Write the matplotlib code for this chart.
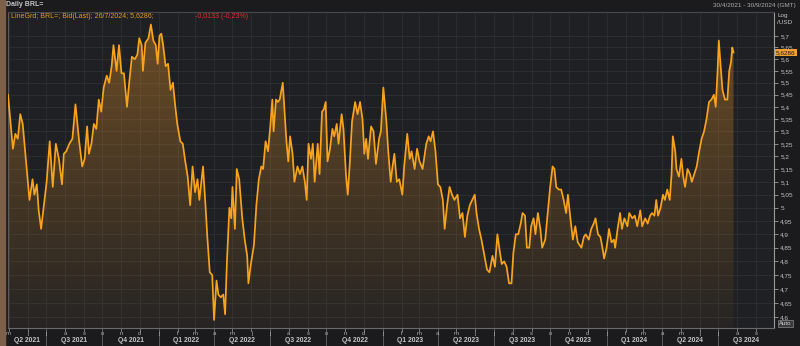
import matplotlib
matplotlib.use("Agg")
import matplotlib.pyplot as plt
import numpy as np
import pandas as pd
from matplotlib.patches import Rectangle
from matplotlib.ticker import FixedLocator, NullLocator, FixedFormatter

plt.rcParams['font.family'] = ['Liberation Sans', 'DejaVu Sans']

# ---------------- data ----------------
dates_2021 = ["2021-04-30","2021-05-05","2021-05-08","2021-05-12","2021-05-16","2021-05-20","2021-05-24","2021-05-29",
              "2021-06-04","2021-06-09","2021-06-12","2021-06-16","2021-06-19","2021-06-23","2021-06-27","2021-07-02",
              "2021-07-07","2021-07-12","2021-07-17","2021-07-22","2021-07-27","2021-07-30","2021-08-03","2021-08-08",
              "2021-08-13","2021-08-18","2021-08-24","2021-08-29","2021-09-02","2021-09-06","2021-09-09","2021-09-13",
              "2021-09-17","2021-09-21","2021-09-25","2021-09-29","2021-10-03","2021-10-08","2021-10-12","2021-10-16",
              "2021-10-19","2021-10-24","2021-10-28","2021-11-01","2021-11-05","2021-11-10","2021-11-14","2021-11-18",
              "2021-11-23","2021-11-27","2021-11-30","2021-12-04","2021-12-06","2021-12-10","2021-12-15","2021-12-19",
              "2021-12-23","2021-12-27","2021-12-30"]
values_2021 = [5.45,5.31,5.23,5.29,5.27,5.37,5.33,5.19,
               5.03,5.11,5.05,5.09,4.99,4.92,5.00,5.10,
               5.26,5.08,5.25,5.19,5.09,5.21,5.22,5.25,
               5.27,5.41,5.26,5.16,5.19,5.32,5.21,5.25,
               5.33,5.31,5.43,5.38,5.48,5.53,5.50,5.57,
               5.66,5.55,5.66,5.54,5.54,5.40,5.51,5.61,
               5.60,5.62,5.69,5.66,5.55,5.67,5.69,5.75,
               5.68,5.66,5.58]

dates_2022 = ["2022-01-02","2022-01-05","2022-01-08","2022-01-12","2022-01-16","2022-01-20","2022-01-24","2022-01-27",
              "2022-01-31","2022-02-05","2022-02-09","2022-02-13","2022-02-17","2022-02-21","2022-02-25","2022-03-01",
              "2022-03-05","2022-03-08","2022-03-14","2022-03-18","2022-03-21","2022-03-25","2022-03-29","2022-04-01",
              "2022-04-05","2022-04-08","2022-04-12","2022-04-16","2022-04-19","2022-04-22","2022-04-26","2022-04-29",
              "2022-05-01","2022-05-05","2022-05-08","2022-05-12","2022-05-17","2022-05-21","2022-05-25","2022-05-27",
              "2022-05-31","2022-06-05","2022-06-09","2022-06-13","2022-06-17","2022-06-20","2022-06-24","2022-06-28",
              "2022-07-02","2022-07-05","2022-07-07","2022-07-11","2022-07-14","2022-07-17","2022-07-22","2022-07-25",
              "2022-07-28","2022-07-31","2022-08-03","2022-08-07","2022-08-10","2022-08-15","2022-08-19","2022-08-23",
              "2022-08-27","2022-08-30","2022-09-02","2022-09-06","2022-09-09","2022-09-12","2022-09-17","2022-09-20",
              "2022-09-24","2022-09-27","2022-09-30","2022-10-03","2022-10-07","2022-10-11","2022-10-14","2022-10-18",
              "2022-10-21","2022-10-26","2022-10-29","2022-11-02","2022-11-05","2022-11-08","2022-11-12","2022-11-17",
              "2022-11-21","2022-11-25","2022-11-29","2022-12-02","2022-12-05","2022-12-08","2022-12-13","2022-12-17",
              "2022-12-21","2022-12-26","2022-12-29"]
values_2022 = [5.70,5.71,5.66,5.57,5.58,5.47,5.50,5.42,
               5.33,5.26,5.25,5.18,5.12,5.01,5.16,5.06,
               5.11,5.03,5.16,5.01,4.89,4.76,4.75,4.59,
               4.73,4.68,4.67,4.68,4.61,4.80,5.00,4.96,
               5.08,4.92,5.15,5.11,4.96,4.88,4.82,4.72,
               4.79,4.86,5.01,5.11,5.16,5.15,5.26,5.22,
               5.33,5.43,5.30,5.43,5.42,5.43,5.50,5.38,
               5.26,5.18,5.28,5.21,5.10,5.16,5.13,5.16,
               5.10,5.03,5.25,5.19,5.25,5.10,5.25,5.13,
               5.38,5.39,5.42,5.18,5.23,5.31,5.28,5.33,
               5.25,5.37,5.31,5.13,5.05,5.16,5.34,5.42,
               5.37,5.42,5.35,5.21,5.27,5.19,5.32,5.30,
               5.17,5.27,5.30]

dates_2023 = ["2023-01-02","2023-01-07","2023-01-10","2023-01-14","2023-01-17","2023-01-20","2023-01-24","2023-01-28",
              "2023-02-02","2023-02-05","2023-02-10","2023-02-14","2023-02-17","2023-02-22","2023-02-26","2023-03-02",
              "2023-03-07","2023-03-13","2023-03-17","2023-03-20","2023-03-24","2023-03-28","2023-04-01","2023-04-05",
              "2023-04-09","2023-04-12","2023-04-16","2023-04-20","2023-04-24","2023-04-28","2023-05-03","2023-05-07",
              "2023-05-11","2023-05-15","2023-05-19","2023-05-23","2023-05-27","2023-05-31","2023-06-03","2023-06-07",
              "2023-06-11","2023-06-15","2023-06-20","2023-06-24","2023-06-29","2023-07-03","2023-07-07","2023-07-10",
              "2023-07-14","2023-07-18","2023-07-22","2023-07-26","2023-07-30","2023-08-02","2023-08-06","2023-08-10",
              "2023-08-14","2023-08-17","2023-08-21","2023-08-24","2023-08-28","2023-08-31","2023-09-04","2023-09-07",
              "2023-09-11","2023-09-15","2023-09-18","2023-09-23","2023-09-27","2023-10-01","2023-10-05","2023-10-08",
              "2023-10-11","2023-10-15","2023-10-19","2023-10-23","2023-10-27","2023-10-30","2023-11-03","2023-11-07",
              "2023-11-11","2023-11-15","2023-11-21","2023-11-25","2023-11-28","2023-12-03","2023-12-07","2023-12-11",
              "2023-12-14","2023-12-18","2023-12-22","2023-12-26","2023-12-28"]
values_2023 = [5.48,5.34,5.22,5.10,5.16,5.21,5.10,5.11,
               5.05,5.16,5.29,5.19,5.22,5.15,5.23,5.18,
               5.15,5.25,5.28,5.26,5.30,5.22,5.09,5.08,
               5.03,4.92,5.01,5.08,5.05,5.03,5.05,4.96,
               4.98,4.89,4.97,5.01,5.03,5.05,4.98,4.92,
               4.88,4.83,4.77,4.76,4.82,4.78,4.90,4.85,
               4.79,4.80,4.78,4.72,4.72,4.83,4.90,4.90,
               4.94,4.98,4.97,4.85,4.85,4.93,4.96,4.90,
               4.98,4.92,4.85,4.88,4.98,5.08,5.16,5.15,
               5.08,5.07,5.07,5.03,4.98,5.05,4.96,4.88,
               4.93,4.87,4.85,4.89,4.90,4.88,4.92,4.94,
               4.96,4.90,4.89,4.84,4.81]

dates_2024 = ["2024-01-01","2024-01-05","2024-01-09","2024-01-13","2024-01-15","2024-01-19","2024-01-23","2024-01-26",
              "2024-01-30","2024-02-04","2024-02-07","2024-02-12","2024-02-16","2024-02-20","2024-02-25","2024-02-28",
              "2024-03-04","2024-03-08","2024-03-12","2024-03-15","2024-03-19","2024-03-22","2024-03-25","2024-03-29",
              "2024-04-02","2024-04-05","2024-04-09","2024-04-13","2024-04-16","2024-04-18","2024-04-22","2024-04-24",
              "2024-04-28","2024-05-02","2024-05-05","2024-05-08","2024-05-12","2024-05-16","2024-05-19","2024-05-23",
              "2024-05-27","2024-05-31","2024-06-04","2024-06-08","2024-06-12","2024-06-16","2024-06-20","2024-06-24",
              "2024-06-27","2024-06-30","2024-07-02","2024-07-05","2024-07-08","2024-07-12","2024-07-16","2024-07-19",
              "2024-07-22","2024-07-24","2024-07-26"]
values_2024 = [4.85,4.92,4.87,4.88,4.85,4.92,4.98,4.92,
               4.96,4.93,4.98,4.96,4.97,4.93,4.99,4.93,
               4.96,4.94,4.97,4.98,4.97,5.03,4.97,5.00,
               5.05,5.03,5.07,5.03,5.13,5.28,5.22,5.15,
               5.12,5.19,5.12,5.08,5.15,5.13,5.10,5.13,
               5.16,5.22,5.27,5.30,5.35,5.42,5.43,5.45,
               5.40,5.55,5.68,5.57,5.47,5.43,5.43,5.55,
               5.59,5.65,5.6286]

last_value_label = "5,6286"
header_left = "Daily BRL="
header_right = "30/4/2021 - 30/9/2024 (GMT)"
legend_main = "LineGrd; BRL=; Bid(Last); 26/7/2024; 5,6286;"
legend_change = "-0,0133 (-0,23%)"
y_ticks = [4.6, 4.65, 4.7, 4.75, 4.8, 4.85, 4.9, 4.95, 5.0, 5.05, 5.1, 5.15,
           5.2, 5.25, 5.3, 5.35, 5.4, 5.45, 5.5, 5.55, 5.6, 5.65, 5.7]
month_letters = ['j', 'f', 'm', 'a', 'm', 'j', 'j', 'a', 's', 'o', 'n', 'd']
x_start, x_end = "2021-04-30", "2024-09-30"

# ---------------- styling ----------------
FIG_BG = '#1b1b1d'
AX_BG = '#1f2023'
GRID = '#2e2f33'
ORANGE = '#f8a31c'
TXT = '#c4c4c4'

dates = pd.to_datetime(dates_2021 + dates_2022 + dates_2023 + dates_2024)
values = np.array(values_2021 + values_2022 + values_2023 + values_2024)

W, H = 800, 346
fig = plt.figure(figsize=(W / 100, H / 100), dpi=100, facecolor=FIG_BG)
ax = fig.add_axes([8 / W, 1 - 328 / H, (774 - 8) / W, (328 - 12) / H])
ax.set_facecolor(AX_BG)
ax.set_yscale('log')
y_lo, y_hi = 4.562, 5.805
ax.set_ylim(y_lo, y_hi)
xs, xe = pd.Timestamp(x_start), pd.Timestamp(x_end)
ax.set_xlim(xs, xe)

# grid
months = pd.date_range("2021-05-01", "2024-09-01", freq="MS")
for m in months:
    ax.axvline(m, color=GRID, lw=0.6, zorder=0)
for t in y_ticks:
    ax.axhline(t, color=GRID, lw=0.6, zorder=0)

# gradient fill under the line
poly = ax.fill_between(dates, values, y_lo * 0.99, color='none', lw=0)
grad = np.zeros((256, 2, 4))
grad[:, :, 0] = 0.90
grad[:, :, 1] = 0.58
grad[:, :, 2] = 0.16
alpha = np.linspace(0.40, 0.04, 256)
grad[:, :, 3] = alpha[:, None]
im = ax.imshow(grad, extent=[0, 1, 0, 1], transform=ax.transAxes,
               aspect='auto', origin='upper', zorder=1, interpolation='bilinear')
im.set_clip_path(poly.get_paths()[0], transform=ax.transData)

ax.plot(dates, values, color=ORANGE, lw=1.25, zorder=3, solid_joinstyle='round')

# y axis on the right
ax.yaxis.tick_right()
ax.yaxis.set_major_locator(FixedLocator(y_ticks))
ax.yaxis.set_minor_locator(NullLocator())
def fmt(v):
    s = f"{v:.2f}".rstrip('0').rstrip('.')
    return s.replace('.', ',')
ax.yaxis.set_major_formatter(FixedFormatter([fmt(v) for v in y_ticks]))
ax.tick_params(axis='y', which='major', length=3, width=0.7, color='#8c8c8c',
               labelsize=4.6, labelcolor=TXT, pad=1.5)
ax.tick_params(axis='x', which='both', bottom=False, labelbottom=False)

for side, col in [('left', '#5a5a5a'), ('top', '#48484a'), ('bottom', '#6a6a6a'), ('right', '#9a9a9a')]:
    ax.spines[side].set_color(col)
    ax.spines[side].set_linewidth(0.8)

# bottom axis: month ticks + letters, quarter separators and labels
xt = ax.get_xaxis_transform()
for m in months:
    ax.plot([m, m], [0, -0.010], transform=xt, color='#8a8a8a', lw=0.6, clip_on=False)
    ax.text(m, -0.018, month_letters[m.month - 1], transform=xt, ha='center', va='center',
            fontsize=4.3, color='#b0b0b0')
qstarts = pd.date_range("2021-07-01", "2024-07-01", freq="QS")
for q in qstarts:
    ax.plot([q, q], [0, -0.06], transform=xt, color='#5a5a5a', lw=0.7, clip_on=False)
bounds = [xs] + list(qstarts) + [xe]
for a, b in zip(bounds[:-1], bounds[1:]):
    mid = a + (b - a) / 2
    qn = (mid.month - 1) // 3 + 1
    ax.text(mid, -0.041, f"Q{qn} {mid.year}", transform=xt, ha='center', va='center',
            fontsize=4.9, color=TXT, fontweight='bold')

# last value box
ax.annotate(last_value_label, xy=(1.0, values[-1]), xycoords=('axes fraction', 'data'),
            xytext=(1.5, 0), textcoords='offset points', ha='left', va='center',
            fontsize=4.6, color='#1a1a1a', annotation_clip=False, zorder=10,
            bbox=dict(boxstyle='square,pad=0.18', fc='#f0a230', ec='none'))

# figure texts
def fx(px):
    return px / W
def fy(py):
    return 1 - py / H
fig.text(fx(6), fy(5), header_left, fontsize=5, color=TXT, va='center', fontweight='bold')
fig.text(fx(796), fy(5), header_right, fontsize=4.6, color='#ababab', va='center', ha='right')
fig.text(fx(11), fy(17), legend_main, fontsize=5, color='#e19a2a', va='center')
fig.text(fx(195), fy(17), legend_change, fontsize=5, color='#e0302a', va='center')
fig.text(fx(778), fy(15), "Log", fontsize=4.6, color=TXT, va='center')
fig.text(fx(777), fy(23), "/USD", fontsize=4.6, color=TXT, va='center')
fig.text(fx(779), fy(323.5), "Auto", fontsize=4.3, color='#d0d0d0', va='center',
         bbox=dict(boxstyle='square,pad=0.2', fc='#3a3a3c', ec='#8a8a8a', lw=0.5))

# left window edge strip
fig.patches.append(Rectangle((0, 0), 4.5 / W, 1, transform=fig.transFigure,
                             color='#7c6047', zorder=0))

fig.savefig("out.png", dpi=100, facecolor=FIG_BG)
